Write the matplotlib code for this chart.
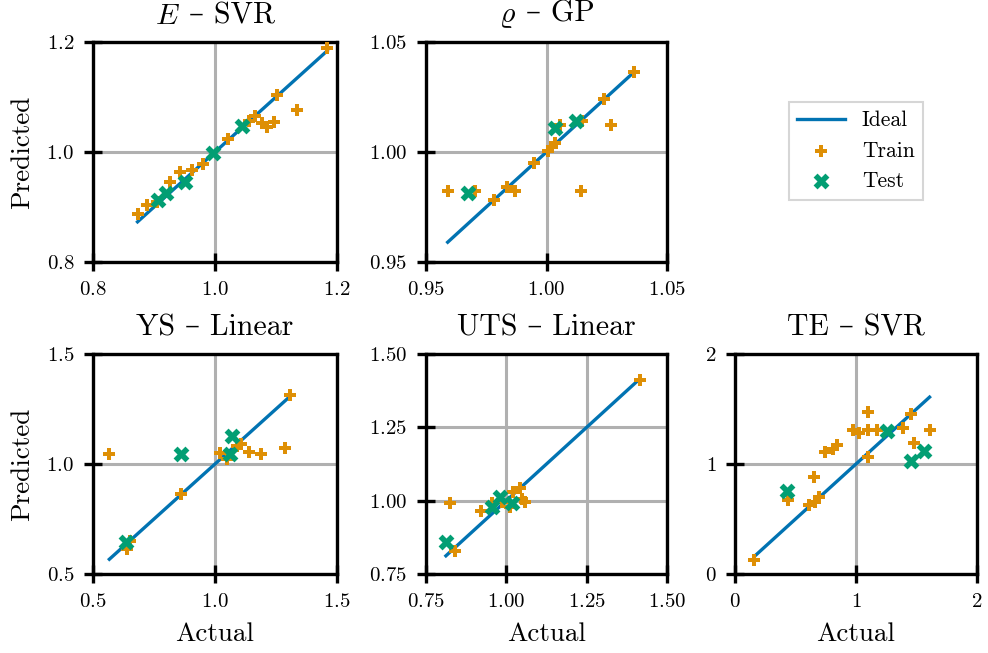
import matplotlib
matplotlib.use("Agg")
import matplotlib.pyplot as plt
from matplotlib.offsetbox import TextArea, HPacker, AnchoredOffsetbox

plt.rcParams['font.family'] = ['cmr10', 'DejaVu Serif']
plt.rcParams['mathtext.fontset'] = 'custom'
plt.rcParams['mathtext.rm'] = 'cmr10'
plt.rcParams['mathtext.it'] = 'cmmi10'
plt.rcParams['mathtext.fallback'] = 'cm'
plt.rcParams['axes.formatter.use_mathtext'] = True

# colores (paleta colorblind)
c_ideal = '#0173B2'
c_train = '#DE8F05'
c_test = '#029E73'

# --- datos ---
# titulo = (simbolo en mathtext o None, resto del texto)
title_sym = [r'$E$', r'$\varrho$', None, None, None]
title_txt = [' – SVR', ' – GP', 'YS – Linear', 'UTS – Linear', 'TE – SVR']

e_train_x = [0.873, 0.888, 0.905, 0.927, 0.943, 0.962, 0.981, 1.022, 1.055, 1.066,
             1.077, 1.085, 1.096, 1.102, 1.135, 1.184]
e_train_y = [0.887, 0.904, 0.910, 0.946, 0.964, 0.967, 0.979, 1.023, 1.057, 1.065,
             1.052, 1.046, 1.055, 1.104, 1.076, 1.189]
e_test_x = [0.907, 0.920, 0.950, 0.997, 1.045]
e_test_y = [0.913, 0.925, 0.946, 0.999, 1.048]

rho_train_x = [0.959, 0.9704, 0.9784, 0.9835, 0.987, 0.995, 1.0008, 1.0022, 1.0036,
               1.0057, 1.0147, 1.0144, 1.024, 1.0267, 1.0362]
rho_train_y = [0.9824, 0.9824, 0.9781, 0.9842, 0.9824, 0.9949, 1.0006, 1.0025, 1.0040,
               1.0124, 1.0143, 0.9824, 1.0239, 1.0122, 1.0362]
rho_test_x = [0.9676, 1.0034, 1.0122]
rho_test_y = [0.9812, 1.011, 1.0141]

ys_train_x = [0.567, 0.639, 0.652, 0.859, 1.020, 1.051, 1.105, 1.090, 1.139, 1.187, 1.286, 1.308]
ys_train_y = [1.047, 0.613, 0.649, 0.863, 1.050, 1.025, 1.093, 1.080, 1.053, 1.047, 1.071, 1.313]
ys_test_x = [0.637, 0.859, 1.071, 1.061]
ys_test_y = [0.645, 1.044, 1.126, 1.047]

uts_train_x = [0.825, 0.840, 0.921, 0.955, 0.985, 1.012, 1.022, 1.043, 1.059, 1.050, 1.415]
uts_train_y = [0.991, 0.829, 0.966, 0.991, 0.995, 0.980, 1.031, 1.043, 0.997, 1.005, 1.410]
uts_test_x = [0.812, 0.955, 0.981, 1.017]
uts_test_y = [0.859, 0.980, 1.011, 0.991]

te_train_x = [0.160, 0.441, 0.615, 0.662, 0.698, 0.656, 0.745, 0.814, 0.847, 0.974,
              1.021, 1.098, 1.173, 1.098, 1.103, 1.388, 1.454, 1.482, 1.608]
te_train_y = [0.129, 0.676, 0.624, 0.654, 0.700, 0.882, 1.109, 1.139, 1.169, 1.307,
              1.282, 1.307, 1.307, 1.474, 1.060, 1.331, 1.453, 1.192, 1.313]
te_test_x = [0.428, 1.256, 1.454, 1.564]
te_test_y = [0.752, 1.301, 1.027, 1.119]

train_x = [e_train_x, rho_train_x, ys_train_x, uts_train_x, te_train_x]
train_y = [e_train_y, rho_train_y, ys_train_y, uts_train_y, te_train_y]
test_x = [e_test_x, rho_test_x, ys_test_x, uts_test_x, te_test_x]
test_y = [e_test_y, rho_test_y, ys_test_y, uts_test_y, te_test_y]

limits = [(0.8, 1.2), (0.95, 1.05), (0.5, 1.5), (0.75, 1.50), (0, 2)]
ticks = [[0.8, 1.0, 1.2], [0.95, 1.00, 1.05], [0.5, 1.0, 1.5],
         [0.75, 1.00, 1.25, 1.50], [0, 1, 2]]

# posiciones de los paneles en pixeles (izq, der, arriba, abajo)
W, H = 988, 653
boxes = [(93, 337, 42, 262), (426, 667, 42, 262),
         (93, 337, 354, 574), (426, 667, 354, 574), (735, 977, 354, 574)]

fig = plt.figure(figsize=(W / 100, H / 100), dpi=100)

for i in range(5):
    l, r, t, b = boxes[i]
    ax = fig.add_axes([l / W, 1 - b / H, (r - l) / W, (b - t) / H])

    allx = train_x[i] + test_x[i]
    lo, hi = min(allx), max(allx)
    ax.plot([lo, hi], [lo, hi], color=c_ideal, linewidth=2.4, label='Ideal', zorder=2)
    ax.scatter(train_x[i], train_y[i], marker='P', s=75, color=c_train,
               linewidths=0, label='Train', zorder=3)
    ax.scatter(test_x[i], test_y[i], marker='X', s=130, color=c_test,
               linewidths=0, label='Test', zorder=4)

    ax.set_xlim(limits[i])
    ax.set_ylim(limits[i])
    ax.set_xticks(ticks[i])
    ax.set_yticks(ticks[i])
    ax.grid(True, color='#b0b0b0', linewidth=2.2, zorder=0)
    ax.set_axisbelow(True)
    ax.tick_params(direction='inout', length=13, width=2.4, pad=7, labelsize=15)
    for s in ax.spines.values():
        s.set_linewidth(2.4)

    # titulo: simbolo en cursiva matematica + resto en texto normal, alineados por la base
    tp = dict(fontsize=21.5)
    parts = [TextArea(title_txt[i], textprops=tp)]
    if title_sym[i] is not None:
        parts.insert(0, TextArea(title_sym[i], textprops=tp))
    pack = HPacker(children=parts, align='baseline', pad=0, sep=0)
    box = AnchoredOffsetbox(loc='lower center', child=pack, pad=0, borderpad=0,
                            bbox_to_anchor=(0.5, 1 + 12 / (b - t)),
                            bbox_transform=ax.transAxes, frameon=False)
    ax.add_artist(box)

    if i in (0, 2):
        ax.set_ylabel('Predicted', fontsize=19.5, labelpad=9)
    if i >= 2:
        ax.set_xlabel('Actual', fontsize=19.5, labelpad=8)

handles, labels = ax.get_legend_handles_labels()
leg = fig.legend(handles, labels, loc='center', bbox_to_anchor=(856 / W, 1 - 151 / H),
                 fontsize=15.5, frameon=True, fancybox=False, edgecolor='#cccccc',
                 handlelength=2.2)
leg.get_frame().set_linewidth(1.5)

fig.savefig('out.png', dpi=100)
